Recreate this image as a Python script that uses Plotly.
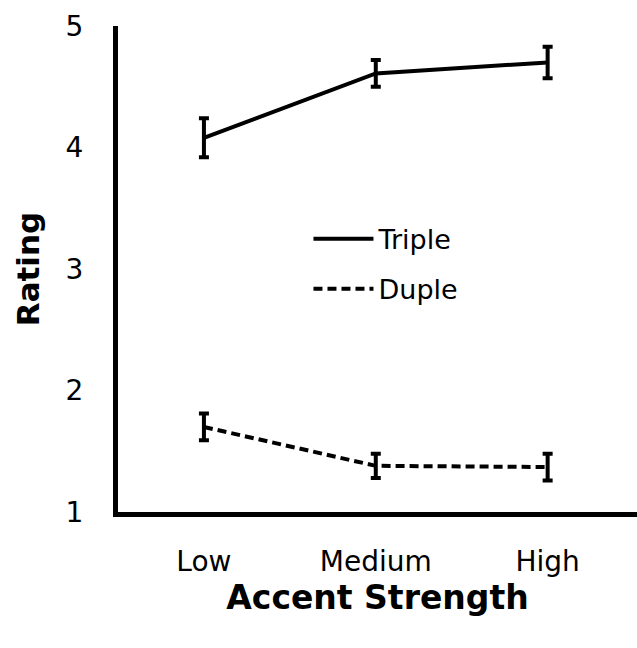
import plotly.graph_objects as go

categories = ["Low", "Medium", "High"]
triple_vals = [4.08, 4.61, 4.70]
triple_err = [0.16, 0.11, 0.13]
duple_vals = [1.70, 1.38, 1.37]
duple_err = [0.11, 0.10, 0.11]
y_ticks = [1, 2, 3, 4, 5]

FONT = "DejaVu Sans"

fig = go.Figure()
fig.add_trace(go.Scatter(
    x=categories, y=triple_vals, name="Triple", mode="lines", legendgroup="t",
    line=dict(color="black", width=4),
    error_y=dict(type="data", array=triple_err, visible=True, color="black",
                 thickness=4, width=5),
))
fig.add_trace(go.Scatter(
    x=categories, y=duple_vals, name="Duple", mode="lines", legendgroup="d",
    line=dict(color="black", width=4, dash="9px,5px"),
    error_y=dict(type="data", array=duple_err, visible=True, color="black",
                 thickness=4, width=5),
))

fig.update_layout(
    width=637, height=648,
    margin=dict(l=118, r=0, t=26, b=136),
    paper_bgcolor="white", plot_bgcolor="white",
    font=dict(family=FONT, color="black"),
    showlegend=True,
    legend=dict(x=0.367, y=0.51, xanchor="left", yanchor="middle",
                font=dict(size=27, family=FONT), bgcolor="rgba(0,0,0,0)",
                tracegroupgap=12, itemwidth=60),
)
fig.update_xaxes(
    type="category", range=[-0.5, 2.52],
    showline=True, linecolor="black", linewidth=5,
    showgrid=False, zeroline=False, ticks="",
    tickfont=dict(size=28, family=FONT), ticklabelstandoff=20,
    title=dict(text="<b>Accent Strength</b>", font=dict(size=33, family=FONT), standoff=10),
)
fig.update_yaxes(
    range=[1, 5], tickvals=y_ticks,
    showline=True, linecolor="black", linewidth=5,
    showgrid=False, zeroline=False, ticks="",
    tickfont=dict(size=28, family=FONT), ticklabelstandoff=24,
    title=dict(text="<b>Rating</b>", font=dict(size=31, family=FONT), standoff=18),
)

fig.write_html("out.html", config={"displayModeBar": False},
               post_script="document.body.style.margin='0';")
